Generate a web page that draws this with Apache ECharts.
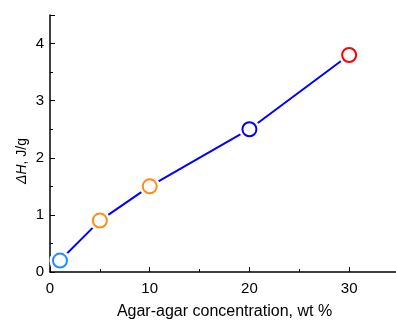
<!DOCTYPE html>
<html>
<head>
<meta charset="utf-8">
<script src="https://cdn.jsdelivr.net/npm/echarts@6/dist/echarts.min.js"></script>
<style>
  html, body { margin: 0; padding: 0; background: #fff; }
  #chart { width: 396px; height: 320px; }
</style>
</head>
<body>
<div id="chart"></div>
<script>
// concentration (wt %) and enthalpy (J/g)
const concentration = [1, 5, 10, 20, 30];
const deltaH = [0.2, 0.9, 1.5, 2.5, 3.8];
const markerColors = ['#1e8fff', '#ff8c1a', '#ff8c1a', '#0000ff', '#ff0000'];

const points = concentration.map((c, i) => [c, deltaH[i]]);

const chart = echarts.init(document.getElementById('chart'));

const font = 'Liberation Sans, Arial, sans-serif';

const option = {
  animation: false,
  grid: { left: 50, top: 15, width: 349, height: 257, outerBoundsMode: 'none', containLabel: false },
  xAxis: {
    type: 'value',
    min: 0,
    max: 35,
    interval: 10,
    name: 'Agar-agar concentration, wt %',
    nameLocation: 'middle',
    nameGap: 32,
    nameTextStyle: { fontFamily: font, fontSize: 16, color: '#000' },
    axisLine: { show: true, lineStyle: { color: '#000', width: 1.5 } },
    axisTick: { inside: true, length: 5, lineStyle: { color: '#000' } },
    minorTick: { show: true, splitNumber: 2, length: 3, lineStyle: { color: '#000' } },
    axisLabel: { fontFamily: font, fontSize: 15, color: '#000', margin: 9,
      formatter: v => (v > 30 ? '' : v) },
    splitLine: { show: false }
  },
  yAxis: {
    type: 'value',
    min: 0,
    max: 4.5,
    interval: 1,
    axisLine: { show: true, lineStyle: { color: '#000', width: 1.5 } },
    axisTick: { inside: true, length: 5, lineStyle: { color: '#000' } },
    minorTick: { show: true, splitNumber: 2, length: 3, lineStyle: { color: '#000' } },
    axisLabel: { fontFamily: font, fontSize: 15, color: '#000', margin: 6,
      formatter: v => (v > 4 ? '' : v) },
    splitLine: { show: false }
  },
  graphic: [{
    type: 'text',
    x: 22,
    y: 161,
    rotation: Math.PI / 2,
    style: {
      text: '{i|ΔH}, J/g',
      rich: { i: { fontStyle: 'italic', fontFamily: font, fontSize: 14, fill: '#000' } },
      font: '14px ' + font,
      fill: '#000',
      align: 'center',
      verticalAlign: 'middle'
    }
  }],
  series: [
    {
      type: 'line',
      data: points,
      symbol: 'none',
      lineStyle: { color: '#0000ff', width: 2 },
      z: 1
    },
    {
      // white halo that makes the gap between line and marker
      type: 'scatter',
      data: points,
      symbolSize: 21,
      itemStyle: { color: '#fff', opacity: 1 },
      z: 2,
      silent: true
    },
    {
      type: 'scatter',
      data: points.map((p, i) => ({
        value: p,
        itemStyle: { color: '#fff', borderColor: markerColors[i], borderWidth: 2, opacity: 1 }
      })),
      symbolSize: 14,
      z: 3
    }
  ]
};

chart.setOption(option);
</script>
</body>
</html>
